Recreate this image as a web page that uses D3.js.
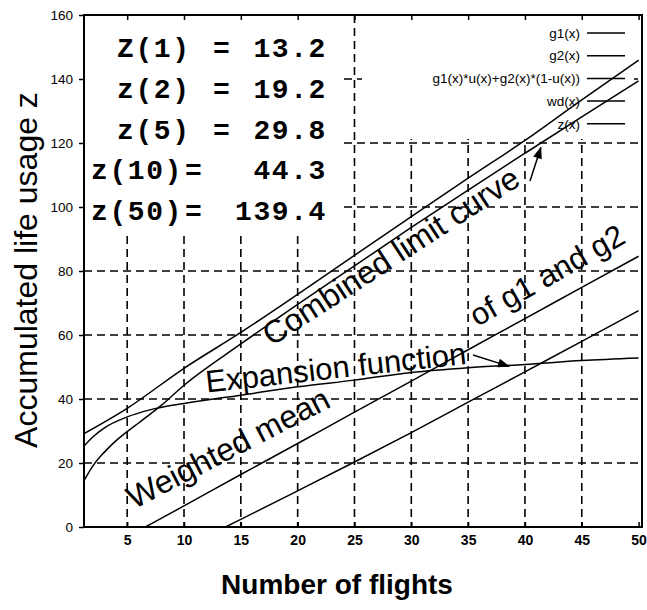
<!DOCTYPE html>
<html><head><meta charset="utf-8">
<script src="https://cdn.jsdelivr.net/npm/d3@7"></script>
<style>body{margin:0;background:#fff}svg{display:block}</style>
</head><body>
<svg id="chart" width="647" height="610"></svg>
<script>
// ---------- data ----------
const xTicks = [5, 10, 15, 20, 25, 30, 35, 40, 45, 50];
const yTicks = [0, 20, 40, 60, 80, 100, 120, 140, 160];

const g1X = [1, 5, 10, 15, 20, 25, 30, 35, 40, 45, 50];
const g1Y = [28.8, 37.1, 49.6, 60.8, 72.7, 84.9, 97.0, 109.0, 120.8, 133.5, 145.9];

const g2X = [10, 13.65, 15, 20, 25, 30, 35, 40, 45, 50];
const g2Y = [-6.5, 0, 2.4, 11.3, 20.3, 29.5, 39.0, 48.5, 58.0, 67.6];

const wmX = [1, 5, 6.6, 10, 15, 20, 25, 30, 35, 40, 45, 50];
const wmY = [-11, -3.1, 0, 6.6, 16.4, 26.1, 35.9, 45.6, 55.4, 65.1, 74.9, 84.6];

const wdX = [1, 2, 3, 5, 7, 10, 15, 20, 25, 30, 35, 40, 45, 50];
const wdY = [24.5, 28.2, 31.0, 34.4, 36.6, 38.6, 41.2, 43.8, 45.9, 48.3, 49.8, 50.8, 52.0, 52.8];

const zX = [1, 2, 3, 4, 5, 6, 7, 8, 10, 15, 20, 25, 30, 35, 40, 45, 50];
const zY = [13.2, 19.2, 23.4, 26.9, 29.8, 32.5, 35.2, 38.0, 44.3, 57.2, 69.6, 81.6, 93.6, 105.3, 116.8, 128.2, 139.4];

const legendLabels = ["g1(x)", "g2(x)", "g1(x)*u(x)+g2(x)*(1-u(x))", "wd(x)", "z(x)"];

const zLabels = ["Z(1)", "z(2)", "z(5)", "z(10)", "z(50)"];
const zValues = ["13.2", "19.2", "29.8", "44.3", "139.4"];

// ---------- layout ----------
const svg = d3.select("#chart");
const L = 84, R = 642, T = 15, B = 527;
const x = d3.scaleLinear().domain([1.2, 50.3]).range([L, R]);
const y = d3.scaleLinear().domain([0, 160]).range([B, T]);
const sans = "'Liberation Sans', Arial, sans-serif";

const defs = svg.append("defs");
defs.append("clipPath").attr("id", "clip")
  .append("rect").attr("x", L).attr("y", T).attr("width", R - L).attr("height", B - T);
defs.append("marker").attr("id", "arrow")
  .attr("viewBox", "0 0 12 10").attr("refX", 11).attr("refY", 5)
  .attr("markerUnits", "userSpaceOnUse")
  .attr("markerWidth", 13).attr("markerHeight", 10).attr("orient", "auto")
  .append("path").attr("d", "M0,0.5 L12,5 L0,9.5 Z").attr("fill", "#000");

// grid
const grid = svg.append("g");
grid.selectAll(".vg").data(xTicks.filter(d => d < 50)).join("line")
  .attr("x1", d => x(d)).attr("x2", d => x(d)).attr("y1", T).attr("y2", B)
  .attr("stroke", "#000").attr("stroke-width", 1.6).attr("stroke-dasharray", "8,5");
grid.selectAll(".hg").data(yTicks.filter(d => d > 0 && d < 160)).join("line")
  .attr("x1", L).attr("x2", R).attr("y1", d => y(d)).attr("y2", d => y(d))
  .attr("stroke", "#000").attr("stroke-width", 1.6).attr("stroke-dasharray", "8,5");

// white boxes behind text block and legend
svg.append("rect").attr("x", L + 1).attr("y", T + 1).attr("width", 343 - L).attr("height", 230 - T).attr("fill", "#fff");
svg.append("rect").attr("x", 362).attr("y", T + 1).attr("width", 634 - 362).attr("height", 138 - T).attr("fill", "#fff");

// axes frame
svg.append("rect").attr("x", L).attr("y", T).attr("width", R - L).attr("height", B - T)
  .attr("fill", "none").attr("stroke", "#000").attr("stroke-width", 2);

// left axis ticks + labels
const yAxis = d3.axisLeft(y).tickValues(yTicks).tickSize(5).tickPadding(6);
const ya = svg.append("g").attr("transform", `translate(${L},0)`).call(yAxis);
ya.select(".domain").remove();
ya.selectAll("line").attr("stroke", "#000").attr("stroke-width", 1.5);
ya.selectAll("text").attr("font-family", sans).attr("font-size", 13.5).attr("fill", "#000");

// bottom axis
const xAxis = d3.axisBottom(x).tickValues(xTicks).tickSize(-5).tickPadding(8);
const xa = svg.append("g").attr("transform", `translate(0,${B})`).call(xAxis);
xa.select(".domain").remove();
xa.selectAll("line").attr("stroke", "#000").attr("stroke-width", 1.5);
xa.selectAll("text").attr("font-family", sans).attr("font-size", 14).attr("font-weight", "bold").attr("fill", "#000");

// top ticks
const xt = svg.append("g").attr("transform", `translate(0,${T})`).call(d3.axisTop(x).tickValues(xTicks).tickSize(-5).tickFormat(""));
xt.select(".domain").remove();
xt.selectAll("line").attr("stroke", "#000").attr("stroke-width", 1.5);

// curves
const line = d3.line().x(d => x(d[0])).y(d => y(d[1])).curve(d3.curveMonotoneX);
const series = [[g1X, g1Y], [g2X, g2Y], [wmX, wmY], [wdX, wdY], [zX, zY]];
const curves = svg.append("g").attr("clip-path", "url(#clip)");
series.forEach(([xs, ys]) => {
  curves.append("path").datum(xs.map((v, i) => [v, ys[i]]))
    .attr("d", line).attr("fill", "none").attr("stroke", "#000").attr("stroke-width", 1.5);
});

// legend
const lg = svg.append("g");
legendLabels.forEach((t, i) => {
  const cy = 33 + i * 22.7;
  lg.append("text").attr("x", 580).attr("y", cy).attr("dy", "0.35em").attr("text-anchor", "end")
    .attr("font-family", sans).attr("font-size", 13.5).text(t);
  lg.append("line").attr("x1", 587).attr("x2", 625).attr("y1", cy).attr("y2", cy)
    .attr("stroke", "#000").attr("stroke-width", 1.5);
});

// z value block
const mono = "'Liberation Mono', 'Courier New', monospace";
zLabels.forEach((t, i) => {
  const by = 57 + i * 40.8;
  const lx = i < 3 ? 117 : 91;
  const ex = i < 3 ? 213 : 185;
  svg.append("text").attr("x", lx).attr("y", by).attr("font-family", mono).attr("font-weight", "bold")
    .attr("font-size", 28).attr("letter-spacing", 1.6).text(t);
  svg.append("text").attr("x", ex).attr("y", by).attr("font-family", mono).attr("font-weight", "bold")
    .attr("font-size", 28).text("=");
  svg.append("text").attr("x", 327).attr("y", by).attr("text-anchor", "end").attr("font-family", mono)
    .attr("font-weight", "bold").attr("font-size", 28).attr("letter-spacing", 1.6).text(zValues[i]);
});

// annotations
function rotText(px, py, ang, size, t) {
  svg.append("text").attr("transform", `translate(${px},${py}) rotate(${ang})`)
    .attr("font-family", sans).attr("font-size", size).text(t);
}
rotText(x(17.7), y(56.3), -33, 32, "Combined limit curve");
rotText(x(12.0), y(42.0), -6.3, 31, "Expansion function");
rotText(x(5.6), y(5.5), -27.5, 32, "Weighted mean");
rotText(x(35.8), y(62.5), -29.5, 31, "of g1 and g2");

svg.append("line").attr("x1", 530).attr("y1", 181).attr("x2", x(41.4)).attr("y2", y(118.6))
  .attr("stroke", "#000").attr("stroke-width", 1.5).attr("marker-end", "url(#arrow)");
svg.append("line").attr("x1", 473).attr("y1", 355).attr("x2", x(38.6)).attr("y2", y(50.2))
  .attr("stroke", "#000").attr("stroke-width", 1.5).attr("marker-end", "url(#arrow)");

// axis titles
svg.append("text").attr("transform", `translate(37,270) rotate(-90)`)
  .attr("text-anchor", "middle").attr("font-family", sans).attr("font-size", 32).text("Accumulated life usage z");
svg.append("text").attr("x", 337).attr("y", 594).attr("text-anchor", "middle")
  .attr("font-family", sans).attr("font-size", 28).attr("font-weight", "bold").text("Number of flights");
</script>
</body></html>
